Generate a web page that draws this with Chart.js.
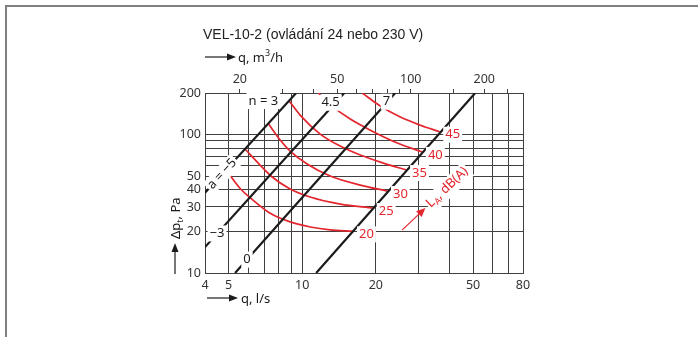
<!DOCTYPE html>
<html>
<head>
<meta charset="utf-8">
<script src="https://cdn.jsdelivr.net/npm/chart.js@4.4.0/dist/chart.umd.min.js"></script>
<style>
  html, body { margin: 0; padding: 0; background: #fff; }
  #wrap { width: 698px; height: 337px; }
</style>
</head>
<body>
<div id="wrap"><canvas id="chart" width="698" height="337"></canvas></div>
<script>
// axis ticks (q in l/s, top axis in m3/h, pressure in Pa)
const xTicks = [4, 5, 6, 7, 8, 9, 10, 20, 30, 40, 50, 60, 70, 80];
const xLabels = [4, 5, 10, 20, 50, 80];
const topTicks = [20, 30, 40, 50, 60, 70, 80, 90, 100, 150, 200, 250];
const topLabels = [20, 50, 100, 200];
const yTicks = [10, 20, 30, 40, 50, 60, 70, 80, 90, 100, 200];
const yLabels = [10, 20, 30, 40, 50, 100, 200];

// system lines [q l/s, dp Pa]
const lineA5 = [[4, 38], [9.44, 200]];
const lineM3 = [[4, 15.4], [14.85, 200]];
const line0 = [[5.31, 10], [24, 200]];
const lineMax = [[11.4, 10], [51, 200]];

// labels sitting on the lines
const lineTexts = ['a = \u22125', '\u22123', '0'];
const lineTextAt = [[4.7, 52], [4.48, 19.3], [5.94, 12.5]];
const speedTexts = ['n = 3', '4.5', '7'];
const speedTextAt = [[6.93, 175], [13.06, 170], [22.1, 173]];

// sound level curves L_A dB(A)
const levels = [20, 25, 30, 35, 40, 45];
const curve20 = [[4.92, 54.5], [5.56, 41], [6.12, 35], [7.39, 27], [8.92, 23.4], [10.8, 21.5], [13, 20.5], [16.2, 20]];
const curve25 = [[5.83, 78.7], [6.72, 60.3], [7.53, 49.4], [8.92, 40.5], [10.77, 35.4], [14.3, 31.5], [19.5, 29.5]];
const curve30 = [[7.25, 121], [8.12, 91.4], [8.92, 76.1], [10.47, 61.3], [13, 50.2], [17.27, 43.2], [22.3, 39.1]];
const curve35 = [[8.84, 175], [9.8, 138.5], [11.84, 101], [14.3, 82.7], [17.27, 71.2], [21.46, 62.3], [26.7, 55.5]];
const curve40 = [[11.62, 200], [13.26, 161], [15.71, 129.6], [19.35, 106], [24.49, 87], [31, 75]];
const curve45 = [[17.6, 200], [20.86, 161], [25.19, 134], [30.42, 117], [36.5, 105]];

// arrow pointing at the L_A curves
const levelArrow = [[25.6, 20.4], [31.9, 29.5]];

const RED = '#e3262d';
const INK = '#1b1b1b';
const GRID = '#404040';
const FONT = '"Noto Sans", sans-serif';

const blackLines = [lineA5, lineM3, line0, lineMax];
const redCurves = [curve20, curve25, curve30, curve35, curve40, curve45];
const toPts = arr => arr.map(([x, y]) => ({ x: x, y: y }));

function boxText(c, text, x, y, color) {
  const w = c.measureText(text).width;
  c.fillStyle = '#fff';
  c.fillRect(x - w / 2 - 2, y - 8, w + 4, 16);
  c.fillStyle = color;
  c.fillText(text, x, y);
}

function arrowHead(c, x, y, ang, len, half) {
  c.save();
  c.translate(x, y);
  c.rotate(ang);
  c.beginPath();
  c.moveTo(0, 0);
  c.lineTo(-len, -half);
  c.lineTo(-len, half);
  c.closePath();
  c.fill();
  c.restore();
}

const annotate = {
  id: 'annotate',
  beforeDraw(chart) {
    const c = chart.ctx;
    c.save();
    c.fillStyle = '#fff';
    c.fillRect(0, 0, chart.width, chart.height);
    c.strokeStyle = '#808080';
    c.lineWidth = 2;
    c.beginPath();
    c.moveTo(6, chart.height);
    c.lineTo(6, 6);
    c.lineTo(chart.width, 6);
    c.stroke();
    c.restore();
  },
  afterDatasetsDraw(chart) {
    const c = chart.ctx;
    const xs = chart.scales.x, ys = chart.scales.y;
    const px = v => xs.getPixelForValue(v);
    const py = v => ys.getPixelForValue(v);
    c.save();
    c.textAlign = 'center';
    c.textBaseline = 'middle';
    c.font = '13px ' + FONT;

    // level numbers at the end of each curve
    redCurves.forEach((cv, i) => {
      const end = cv[cv.length - 1];
      boxText(c, String(levels[i]), px(end[0]) + 13, py(end[1]) + 3, RED);
    });

    // line labels, the first one runs along its line
    const ang = Math.atan2(py(lineA5[1][1]) - py(lineA5[0][1]), px(lineA5[1][0]) - px(lineA5[0][0]));
    lineTexts.forEach((t, i) => {
      const x = px(lineTextAt[i][0]), y = py(lineTextAt[i][1]);
      if (i === 0) {
        c.save();
        c.translate(x, y);
        c.rotate(ang);
        boxText(c, t, 0, 0, INK);
        c.restore();
      } else {
        boxText(c, t, x, y, INK);
      }
    });
    speedTexts.forEach((t, i) => {
      boxText(c, t, px(speedTextAt[i][0]), py(speedTextAt[i][1]), INK);
    });

    // L_A, dB(A) with its arrow
    const ax0 = px(levelArrow[0][0]), ay0 = py(levelArrow[0][1]);
    const ax1 = px(levelArrow[1][0]), ay1 = py(levelArrow[1][1]);
    const a = Math.atan2(ay1 - ay0, ax1 - ax0);
    c.strokeStyle = RED;
    c.fillStyle = RED;
    c.lineWidth = 1.2;
    c.beginPath();
    c.moveTo(ax0, ay0);
    c.lineTo(ax1 - 6 * Math.cos(a), ay1 - 6 * Math.sin(a));
    c.stroke();
    arrowHead(c, ax1, ay1, a, 9, 4);
    c.save();
    c.translate(ax1 + 4 * Math.cos(a), ay1 + 4 * Math.sin(a));
    c.rotate(a);
    c.textAlign = 'left';
    c.font = '13px ' + FONT;
    const w1 = c.measureText('L').width;
    c.font = '9px ' + FONT;
    const w2 = c.measureText('A').width;
    c.font = '13px ' + FONT;
    const w3 = c.measureText(', dB(A)').width;
    c.fillStyle = '#fff';
    c.fillRect(-1, -8, w1 + w2 + w3 + 3, 18);
    c.fillStyle = RED;
    c.fillText('L', 0, 0);
    c.font = '9px ' + FONT;
    c.fillText('A', w1, 4);
    c.font = '13px ' + FONT;
    c.fillText(', dB(A)', w1 + w2, 0);
    c.restore();
    c.restore();
  },
  afterDraw(chart) {
    const c = chart.ctx;
    c.save();
    c.fillStyle = INK;
    c.strokeStyle = INK;
    c.textBaseline = 'alphabetic';
    c.textAlign = 'left';

    c.font = '14px "Liberation Sans", Arial, sans-serif';
    c.fillStyle = '#222';
    c.fillText('VEL-10-2 (ovl\u00e1d\u00e1n\u00ed 24 nebo 230 V)', 203, 39);

    c.fillStyle = INK;
    c.lineWidth = 1.2;
    // top axis caption
    c.beginPath(); c.moveTo(205, 57); c.lineTo(228, 57); c.stroke();
    arrowHead(c, 236, 57, 0, 9, 3.5);
    c.font = '13px ' + FONT;
    c.fillText('q, m', 238, 62);
    let w = c.measureText('q, m').width;
    c.font = '9px ' + FONT;
    c.fillText('3', 238 + w, 56);
    const w3 = c.measureText('3').width;
    c.font = '13px ' + FONT;
    c.fillText('/h', 238 + w + w3, 62);

    // bottom axis caption
    c.beginPath(); c.moveTo(207, 298); c.lineTo(230, 298); c.stroke();
    arrowHead(c, 238, 298, 0, 9, 3.5);
    c.fillText('q, l/s', 241, 303);

    // pressure axis caption
    c.beginPath(); c.moveTo(175, 274); c.lineTo(175, 251); c.stroke();
    arrowHead(c, 175, 243, -Math.PI / 2, 9, 3.5);
    c.save();
    c.translate(180, 239);
    c.rotate(-Math.PI / 2);
    c.fillText('\u0394p', 0, 0);
    w = c.measureText('\u0394p').width;
    c.font = '9px ' + FONT;
    c.fillText('t', w, 3);
    const wt = c.measureText('t').width;
    c.font = '13px ' + FONT;
    c.fillText(', Pa', w + wt, 0);
    c.restore();
    c.restore();
  }
};

const tickFont = { family: FONT, size: 12.5 };

new Chart(document.getElementById('chart'), {
  type: 'scatter',
  data: {
    datasets: [
      ...blackLines.map(l => ({
        data: toPts(l), showLine: true, borderColor: INK, borderWidth: 2.2,
        pointRadius: 0, tension: 0
      })),
      ...redCurves.map(l => ({
        data: toPts(l), showLine: true, borderColor: RED, borderWidth: 1.7,
        pointRadius: 0, cubicInterpolationMode: 'monotone'
      }))
    ]
  },
  options: {
    responsive: false,
    devicePixelRatio: 1,
    animation: false,
    events: [],
    layout: { padding: { left: 0, right: 175, top: 63, bottom: 0 } },
    plugins: { legend: { display: false }, tooltip: { enabled: false } },
    scales: {
      x: {
        type: 'logarithmic', position: 'bottom', min: 4, max: 80,
        afterBuildTicks: s => { s.ticks = xTicks.map(v => ({ value: v })); },
        afterFit: s => { s.height = 64; },
        grid: { color: GRID, lineWidth: 1, drawTicks: false },
        border: { color: GRID, width: 1 },
        ticks: {
          autoSkip: false, maxRotation: 0, padding: 5, color: '#333', font: tickFont,
          callback: v => xLabels.includes(v) ? String(v) : ''
        }
      },
      x2: {
        type: 'logarithmic', position: 'top', min: 4 * 3.6, max: 80 * 3.6,
        afterBuildTicks: s => { s.ticks = topTicks.map(v => ({ value: v })); },
        afterFit: s => { s.height = 30; },
        grid: { drawOnChartArea: false, color: GRID, tickLength: 4 },
        border: { display: false },
        ticks: {
          autoSkip: false, maxRotation: 0, padding: 2, color: '#333', font: tickFont,
          callback: v => topLabels.includes(v) ? String(v) : ''
        }
      },
      y: {
        type: 'logarithmic', position: 'left', min: 10, max: 200,
        afterBuildTicks: s => { s.ticks = yTicks.map(v => ({ value: v })); },
        afterFit: s => { s.width = 205; },
        grid: { color: GRID, lineWidth: 1, drawTicks: false },
        border: { color: GRID, width: 1 },
        ticks: {
          autoSkip: false, padding: 4, color: '#333', font: tickFont,
          callback: v => yLabels.includes(v) ? String(v) : ''
        }
      }
    }
  },
  plugins: [annotate]
});
</script>
</body>
</html>
